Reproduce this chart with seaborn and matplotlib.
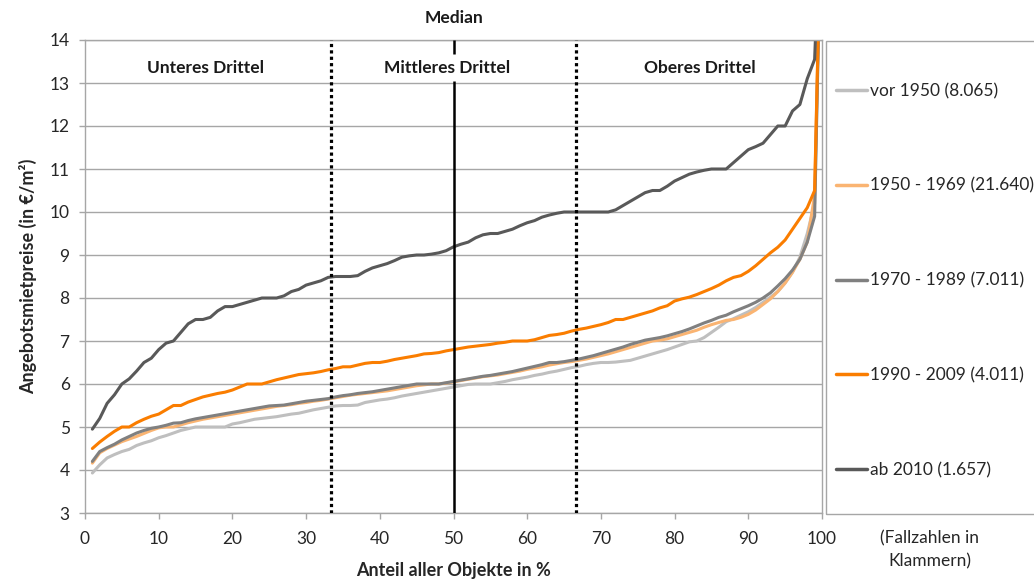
import matplotlib
matplotlib.use("Agg")
import matplotlib.pyplot as plt
from matplotlib.patches import Rectangle
from matplotlib.lines import Line2D
import numpy as np
import pandas as pd
import seaborn as sns

# ---- data -------------------------------------------------------------
pct = list(range(1, 101))

vor_1950 = [3.93, 4.12, 4.28, 4.36, 4.43, 4.48, 4.57, 4.63, 4.68, 4.75,
            4.80, 4.86, 4.92, 4.96, 5.00, 5.00, 5.00, 5.00, 5.00, 5.07,
            5.10, 5.14, 5.18, 5.20, 5.22, 5.24, 5.27, 5.30, 5.32, 5.36,
            5.40, 5.43, 5.46, 5.49, 5.50, 5.50, 5.51, 5.57, 5.60, 5.63,
            5.65, 5.68, 5.72, 5.75, 5.78, 5.81, 5.84, 5.87, 5.90, 5.93,
            5.96, 5.99, 6.00, 6.00, 6.00, 6.03, 6.06, 6.10, 6.13, 6.16,
            6.20, 6.23, 6.27, 6.30, 6.34, 6.38, 6.41, 6.45, 6.48, 6.50,
            6.50, 6.51, 6.53, 6.55, 6.60, 6.65, 6.70, 6.75, 6.80, 6.86,
            6.92, 6.98, 7.00, 7.08, 7.20, 7.32, 7.45, 7.52, 7.60, 7.68,
            7.78, 7.90, 8.02, 8.15, 8.35, 8.60, 8.95, 9.50, 10.2, 18.0]

j1950_1969 = [4.16, 4.40, 4.50, 4.58, 4.66, 4.72, 4.78, 4.85, 4.92, 4.98,
              5.00, 5.00, 5.05, 5.10, 5.14, 5.18, 5.21, 5.24, 5.27, 5.30,
              5.33, 5.36, 5.39, 5.42, 5.45, 5.48, 5.50, 5.52, 5.55, 5.57,
              5.60, 5.62, 5.65, 5.68, 5.71, 5.74, 5.76, 5.78, 5.80, 5.82,
              5.84, 5.87, 5.90, 5.93, 5.96, 5.98, 6.00, 6.00, 6.02, 6.05,
              6.08, 6.11, 6.14, 6.17, 6.19, 6.21, 6.24, 6.27, 6.30, 6.34,
              6.37, 6.40, 6.44, 6.47, 6.50, 6.52, 6.55, 6.58, 6.62, 6.66,
              6.70, 6.75, 6.80, 6.85, 6.90, 6.95, 7.00, 7.02, 7.05, 7.10,
              7.15, 7.20, 7.25, 7.32, 7.38, 7.43, 7.48, 7.50, 7.55, 7.62,
              7.72, 7.85, 7.98, 8.15, 8.35, 8.60, 8.90, 9.30, 10.4, 18.0]

j1970_1989 = [4.20, 4.43, 4.52, 4.60, 4.70, 4.78, 4.86, 4.92, 4.97, 5.00,
              5.04, 5.09, 5.10, 5.15, 5.19, 5.22, 5.25, 5.28, 5.31, 5.34,
              5.37, 5.40, 5.43, 5.46, 5.49, 5.50, 5.51, 5.54, 5.57, 5.60,
              5.62, 5.64, 5.66, 5.70, 5.73, 5.75, 5.78, 5.80, 5.82, 5.85,
              5.88, 5.91, 5.94, 5.97, 6.00, 6.00, 6.00, 6.00, 6.03, 6.06,
              6.09, 6.12, 6.15, 6.18, 6.20, 6.23, 6.26, 6.29, 6.33, 6.37,
              6.41, 6.45, 6.50, 6.50, 6.52, 6.55, 6.58, 6.62, 6.66, 6.71,
              6.76, 6.81, 6.86, 6.92, 6.97, 7.02, 7.05, 7.08, 7.12, 7.17,
              7.22, 7.28, 7.35, 7.42, 7.48, 7.55, 7.60, 7.68, 7.75, 7.82,
              7.90, 8.00, 8.12, 8.28, 8.45, 8.65, 8.90, 9.30, 9.90, 18.0]

j1990_2009 = [4.50, 4.65, 4.78, 4.90, 5.00, 5.00, 5.10, 5.18, 5.25, 5.30,
              5.40, 5.50, 5.50, 5.58, 5.64, 5.70, 5.74, 5.78, 5.81, 5.86,
              5.93, 6.00, 6.00, 6.00, 6.05, 6.10, 6.14, 6.18, 6.22, 6.24,
              6.26, 6.29, 6.33, 6.36, 6.40, 6.40, 6.44, 6.48, 6.50, 6.50,
              6.53, 6.57, 6.60, 6.63, 6.66, 6.70, 6.71, 6.73, 6.77, 6.80,
              6.83, 6.86, 6.88, 6.90, 6.92, 6.95, 6.97, 7.00, 7.00, 7.00,
              7.03, 7.08, 7.13, 7.15, 7.18, 7.23, 7.27, 7.30, 7.34, 7.38,
              7.43, 7.50, 7.50, 7.55, 7.60, 7.65, 7.70, 7.77, 7.82, 7.93,
              7.98, 8.02, 8.08, 8.15, 8.22, 8.30, 8.40, 8.48, 8.52, 8.62,
              8.75, 8.90, 9.05, 9.18, 9.35, 9.60, 9.85, 10.1, 10.5, 18.0]

ab_2010 = [4.95, 5.20, 5.55, 5.75, 6.00, 6.12, 6.30, 6.50, 6.60, 6.80,
           6.95, 7.00, 7.20, 7.40, 7.50, 7.50, 7.55, 7.70, 7.80, 7.80,
           7.85, 7.90, 7.95, 8.00, 8.00, 8.00, 8.05, 8.15, 8.20, 8.30,
           8.35, 8.40, 8.48, 8.50, 8.50, 8.50, 8.52, 8.62, 8.70, 8.75,
           8.80, 8.87, 8.95, 8.98, 9.00, 9.00, 9.02, 9.05, 9.10, 9.19,
           9.25, 9.30, 9.40, 9.47, 9.50, 9.50, 9.55, 9.60, 9.68, 9.75,
           9.80, 9.88, 9.93, 9.97, 10.0, 10.0, 10.0, 10.0, 10.0, 10.0,
           10.0, 10.05, 10.15, 10.25, 10.35, 10.45, 10.5, 10.5, 10.6, 10.72,
           10.8, 10.88, 10.93, 10.97, 11.0, 11.0, 11.0, 11.15, 11.3, 11.45,
           11.52, 11.6, 11.8, 12.0, 12.0, 12.35, 12.5, 13.1, 13.55, 18.0]

labels = ["vor 1950 (8.065)", "1950 - 1969 (21.640)", "1970 - 1989 (7.011)",
          "1990 - 2009 (4.011)", "ab 2010 (1.657)"]
colors = ["#BFBFBF", "#FAB472", "#808080", "#FA7D00", "#595959"]
series = [vor_1950, j1950_1969, j1970_1989, j1990_2009, ab_2010]

df = pd.concat([pd.DataFrame({"Anteil": pct, "Preis": s, "Gruppe": lab})
                for s, lab in zip(series, labels)], ignore_index=True)

# ---- style ------------------------------------------------------------
sns.set_theme(style="white")
plt.rcParams["font.family"] = ["Lato", "DejaVu Sans"]

W, H = 1034, 581
fig = plt.figure(figsize=(W / 100, H / 100), dpi=100)
L, R, T, B = 85, 822, 40, 513
ax = fig.add_axes([L / W, 1 - B / H, (R - L) / W, (B - T) / H])

sns.lineplot(data=df, x="Anteil", y="Preis", hue="Gruppe", hue_order=labels,
             palette=dict(zip(labels, colors)), linewidth=2.2, ax=ax,
             legend=False)

ax.set_xlim(0, 100)
ax.set_ylim(3, 14)
ax.set_xticks(range(0, 101, 10))
ax.set_yticks(range(3, 15))
ax.yaxis.grid(True, color="#A6A6A6", linewidth=1)
ax.xaxis.grid(False)
for sp in ax.spines.values():
    sp.set_color("#A6A6A6")
    sp.set_linewidth(1)
ax.tick_params(axis="both", direction="out", length=4, width=1,
               color="#A6A6A6", labelsize=12.5, labelcolor="#262626")
ax.tick_params(axis="y", pad=7, left=True)
ax.tick_params(axis="x", pad=9, bottom=True)

ax.set_xlabel("Anteil aller Objekte in %", fontsize=13, fontweight="bold",
              color="#262626", labelpad=11)
ax.set_ylabel("Angebotsmietpreise (in €/m²)", fontsize=13, fontweight="bold",
              color="#262626", labelpad=9)

# tercile / median markers
ax.vlines([100 / 3, 200 / 3], 3, 14, colors="black", linestyles=(0, (1, 1)),
          linewidth=2.3, zorder=5)
ax.vlines(50, 3, 13.05, colors="black", linewidth=1.8, zorder=5)
ax.vlines(50, 13.68, 14, colors="black", linewidth=1.8, zorder=5)

tkw = dict(fontsize=12.5, fontweight="bold", color="#1A1A1A", ha="center",
           va="center")
ax.text(16.3, 13.35, "Unteres Drittel", **tkw)
ax.text(49.1, 13.35, "Mittleres Drittel", **tkw)
ax.text(83.4, 13.35, "Oberes Drittel", **tkw)
ax.text(50, 14.52, "Median", clip_on=False, **tkw)

# legend box
fig.patches.append(Rectangle((826 / W, 1 - 514 / H), 0.5, 473 / H,
                             transform=fig.transFigure, fill=False,
                             edgecolor="#A6A6A6", linewidth=1))
handles = [Line2D([], [], color=c, linewidth=2.5) for c in colors]
fig.legend(handles, labels, loc="upper left",
           bbox_to_anchor=(829 / W, 1 - 76 / H), frameon=False,
           fontsize=12.5, handlelength=1.8, handletextpad=0.15,
           labelspacing=4.53, labelcolor="#262626", borderaxespad=0)

fig.text(930 / W, 1 - 550 / H, "(Fallzahlen in\nKlammern)", ha="center",
         va="center", fontsize=12.5, color="#262626", linespacing=1.5)

fig.savefig("out.png", dpi=100)
